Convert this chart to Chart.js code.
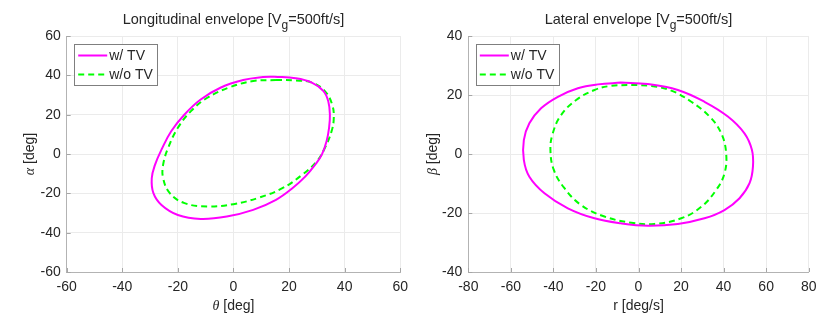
<!DOCTYPE html>
<html>
<head>
<meta charset="utf-8">
<script src="https://cdn.jsdelivr.net/npm/chart.js@4/dist/chart.umd.min.js"></script>
<style>
  html, body { margin: 0; padding: 0; background: #fff; }
  .wrap { display: flex; width: 830px; height: 324px; }
  .box { position: relative; width: 415px; height: 324px; }
</style>
</head>
<body>
<div class="wrap">
  <div class="box"><canvas id="lonChart" width="415" height="324"></canvas></div>
  <div class="box"><canvas id="latChart" width="415" height="324"></canvas></div>
</div>
<script>
// --- Longitudinal envelope (theta vs alpha) ---
const lonThetaTV = [14.7, 22.4, 28.2, 32.4, 34.1, 34.7, 34.4, 33.5, 31.8, 29.4, 25.9, 21.2, 15.3, 7.1, -2.4, -11.8, -20, -25.9, -28.8, -29.4, -28.2, -25.9, -22.4, -17.6, -11.8, -4.7, 3.5, 10.6, 14.7];
const lonAlphaTV = [39.3, 38.5, 36.3, 32, 26.9, 20.1, 13.3, 6.5, -0.3, -5.4, -11.4, -17.4, -23.3, -28.4, -31.8, -33, -31, -25.9, -19.9, -12.3, -5.4, 2.2, 11.6, 20.1, 27.7, 33.7, 37.6, 39.1, 39.3];
const lonThetaNoTV = [15.3, 22.4, 28.2, 32.9, 35.5, 36.1, 35.3, 32.9, 30, 24.7, 17.6, 9.4, 0, -9.4, -17.6, -22.9, -25.3, -25.3, -23.5, -20, -15.3, -9.4, -1.2, 7.1, 15.3];
const lonAlphaNoTV = [37.6, 37.4, 36.3, 32, 25.2, 18.4, 11.6, 3.1, -3.7, -10.6, -17.4, -22.1, -25.5, -26.7, -25, -19.9, -12.3, -5.4, 3.1, 13.3, 21.8, 28.6, 34, 37.1, 37.6];

// --- Lateral envelope (r vs beta) ---
const latRTV = [-8.2, 4.4, 18.5, 31, 42, 49.8, 53.3, 53.8, 52.2, 47.5, 40.4, 31, 18.5, 4.4, -8.2, -20.7, -33.2, -44.2, -51.3, -53.9, -53.9, -51.3, -45.8, -37.9, -28.5, -19.1, -8.2];
const latBetaTV = [24.2, 23.7, 21.7, 17.7, 12.7, 7, 1.4, -4.3, -9.9, -15, -19, -21.8, -23.7, -24.3, -23.5, -21.8, -18.4, -13.3, -7.7, -2, 4.7, 10.4, 15.5, 19.4, 22.3, 23.6, 24.2];
const latRNoTV = [-3.4, 6, 15.4, 24.8, 33.4, 38.9, 41.2, 40.4, 36.5, 29.5, 20.1, 7.5, -3.4, -16, -27, -34.8, -39.8, -41.4, -40.3, -36.4, -29.3, -20.7, -12.9, -3.4];
const latBetaNoTV = [23.4, 23.1, 21.5, 17.7, 12.7, 7, 0.2, -6.6, -12.2, -17.9, -21.8, -23.7, -23.3, -21.2, -17.3, -11.6, -5.4, 1.4, 7, 13.2, 18.3, 21.7, 23.1, 23.4];

const seriesLabels = ['w/ TV', 'w/o TV'];
const lonTicks = { xMin: -60, xMax: 60, xStep: 20, yMin: -60, yMax: 60, yStep: 20 };
const latTicks = { xMin: -80, xMax: 80, xStep: 20, yMin: -40, yMax: 40, yStep: 20 };

const TEXT = '#262626';
const SANS = "'Liberation Sans', Arial, sans-serif";
const SERIF = "'Liberation Serif', 'Times New Roman', serif";

function toPoints(xs, ys) {
    return xs.map((x, i) => ({ x: x, y: ys[i] }));
}

// draws a list of text pieces one after another
function drawRich(ctx, parts, cx, cy, rotate) {
    ctx.save();
    ctx.translate(cx, cy);
    if (rotate) ctx.rotate(-Math.PI / 2);
    let total = 0;
    parts.forEach(p => { ctx.font = p.font; total += ctx.measureText(p.text).width; });
    let x = -total / 2;
    ctx.fillStyle = TEXT;
    ctx.textBaseline = 'middle';
    ctx.textAlign = 'left';
    parts.forEach(p => {
        ctx.font = p.font;
        ctx.fillText(p.text, x, p.dy || 0);
        x += ctx.measureText(p.text).width;
    });
    ctx.restore();
}

const decorPlugin = {
    id: 'decor',
    afterDraw(chart) {
        const ctx = chart.ctx;
        const a = chart.chartArea;
        const o = chart.options.plugins.decor;
        const xs = chart.scales.x, ys = chart.scales.y;

        // inward tick marks on bottom and left axes
        ctx.save();
        ctx.strokeStyle = '#a6a6a6';
        ctx.lineWidth = 1;
        ctx.beginPath();
        xs.ticks.forEach(t => {
            const px = Math.round(xs.getPixelForValue(t.value)) + 0.5;
            ctx.moveTo(px, a.bottom);
            ctx.lineTo(px, a.bottom - 4);
        });
        ys.ticks.forEach(t => {
            const py = Math.round(ys.getPixelForValue(t.value)) + 0.5;
            ctx.moveTo(a.left, py);
            ctx.lineTo(a.left + 4, py);
        });
        ctx.stroke();
        ctx.restore();

        // title with subscript g
        const cx = (a.left + a.right) / 2;
        drawRich(ctx, [
            { text: o.title + ' [V', font: '14.5px ' + SANS },
            { text: 'g', font: '12px ' + SANS, dy: 6 },
            { text: '=500ft/s]', font: '14.5px ' + SANS }
        ], cx, 20);

        // axis labels
        drawRich(ctx, [
            { text: o.xSym, font: o.xSymFont },
            { text: ' ' + o.xUnit, font: '14px ' + SANS }
        ], cx, 306);
        drawRich(ctx, [
            { text: o.ySym, font: 'italic 14px ' + SERIF },
            { text: ' [deg]', font: '14px ' + SANS }
        ], o.yLabelX, (a.top + a.bottom) / 2, true);

        // legend box
        const lx = a.left + 7.5, ly = a.top + 8, lw = 83, lh = 41;
        ctx.save();
        ctx.fillStyle = '#fff';
        ctx.fillRect(lx, ly, lw, lh);
        ctx.strokeStyle = '#7f7f7f';
        ctx.lineWidth = 1;
        ctx.strokeRect(Math.round(lx) + 0.5, Math.round(ly) + 0.5, lw, lh);
        chart.data.datasets.forEach((ds, i) => {
            const rowY = ly + 11.5 + i * 19;
            ctx.strokeStyle = ds.borderColor;
            ctx.lineWidth = ds.borderWidth;
            ctx.setLineDash(ds.borderDash || []);
            ctx.beginPath();
            ctx.moveTo(lx + 4, rowY);
            ctx.lineTo(lx + 33, rowY);
            ctx.stroke();
            ctx.setLineDash([]);
            ctx.fillStyle = TEXT;
            ctx.font = '14px ' + SANS;
            ctx.textBaseline = 'middle';
            ctx.fillText(ds.label, lx + 35, rowY + 1);
        });
        ctx.restore();
    }
};

function makeChart(id, lim, datasets, decor, yWidth, padRight) {
    return new Chart(document.getElementById(id), {
        type: 'scatter',
        data: { datasets: datasets },
        options: {
            responsive: false,
            animation: false,
            layout: { padding: { top: 36, right: padRight, left: 0, bottom: 0 } },
            plugins: {
                legend: { display: false },
                tooltip: { enabled: false },
                decor: decor
            },
            scales: {
                x: {
                    type: 'linear',
                    min: lim.xMin, max: lim.xMax,
                    ticks: { stepSize: lim.xStep, color: TEXT, font: { family: SANS, size: 14 }, padding: 7 },
                    grid: { color: '#ebebeb', drawTicks: false },
                    border: { color: '#b3b3b3' },
                    afterFit: s => { s.height = 52; }
                },
                y: {
                    type: 'linear',
                    min: lim.yMin, max: lim.yMax,
                    ticks: { stepSize: lim.yStep, color: TEXT, font: { family: SANS, size: 14 }, padding: 6 },
                    grid: { color: '#ebebeb', drawTicks: false },
                    border: { color: '#b3b3b3' },
                    afterFit: s => { s.width = yWidth; }
                }
            }
        },
        plugins: [decorPlugin]
    });
}

function envelopeSets(xTV, yTV, xNo, yNo) {
    return [
        {
            label: seriesLabels[0],
            data: toPoints(xTV, yTV),
            showLine: true, pointRadius: 0, tension: 0.4,
            borderColor: '#ff00ff', borderWidth: 2
        },
        {
            label: seriesLabels[1],
            data: toPoints(xNo, yNo),
            showLine: true, pointRadius: 0, tension: 0.4,
            borderColor: '#00ff00', borderWidth: 2, borderDash: [6, 4]
        }
    ];
}

makeChart('lonChart', lonTicks,
    envelopeSets(lonThetaTV, lonAlphaTV, lonThetaNoTV, lonAlphaNoTV),
    { title: 'Longitudinal envelope', xSym: 'θ', xSymFont: 'italic 14px ' + SERIF, xUnit: '[deg]', ySym: 'α', yLabelX: 30 },
    66.7, 9);

makeChart('latChart', latTicks,
    envelopeSets(latRTV, latBetaTV, latRNoTV, latBetaNoTV),
    { title: 'Lateral envelope', xSym: 'r', xSymFont: '14px ' + SANS, xUnit: '[deg/s]', ySym: 'β', yLabelX: 18 },
    53.3, 21.3);
</script>
</body>
</html>
